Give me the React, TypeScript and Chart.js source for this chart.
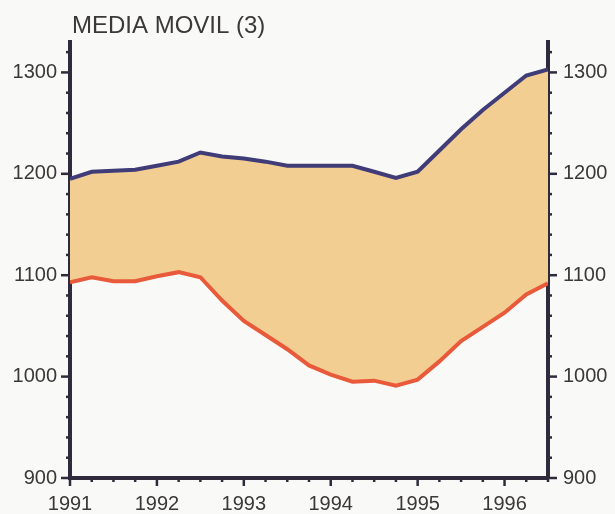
import React, { useEffect, useRef } from "react";
import { Chart, registerables } from "chart.js";

Chart.register(...registerables);

const TITLE = "MEDIA MOVIL (3)";

const quarters = [
  1991.0, 1991.25, 1991.5, 1991.75,
  1992.0, 1992.25, 1992.5, 1992.75,
  1993.0, 1993.25, 1993.5, 1993.75,
  1994.0, 1994.25, 1994.5, 1994.75,
  1995.0, 1995.25, 1995.5, 1995.75,
  1996.0, 1996.25, 1996.5,
];

const upperSeries = [
  1195, 1202, 1203, 1204,
  1208, 1212, 1221, 1217,
  1215, 1212, 1208, 1208,
  1208, 1208, 1202, 1196,
  1202, 1223, 1244, 1263,
  1280, 1297, 1303,
];

const lowerSeries = [
  1093, 1098, 1094, 1094,
  1099, 1103, 1098, 1075,
  1055, 1041, 1027, 1011,
  1002, 995, 996, 991,
  997, 1015, 1035, 1049,
  1063, 1081, 1092,
];

const yMin = 900;
const yMax = 1330;
const yStep = 20;
const xMin = 1991;
const xMax = 1996.5;
const xStep = 0.25;

const TEXT = "#3a3838";
const AXIS = "#2f2b3c";
const FILL = "#F3CE93";
const BLUE = "#3f3c78";
const RED = "#e85a3a";
const BG = "#f9f9f7";
const TICK_FONT = { family: "'Liberation Sans', Arial, sans-serif", size: 20 };

const isInt = (v: number) => Math.abs(v - Math.round(v)) < 1e-6;

const decorPlugin = {
  id: "decor",
  beforeDraw(chart: any) {
    const { ctx, width, height } = chart;
    ctx.save();
    ctx.fillStyle = BG;
    ctx.fillRect(0, 0, width, height);
    ctx.restore();
  },
  afterDraw(chart: any) {
    const { ctx, chartArea } = chart;
    ctx.save();
    ctx.strokeStyle = AXIS;
    ctx.lineWidth = 2.5;
    const xs = chart.scales.x;
    xs.ticks.forEach((t: any) => {
      const px = xs.getPixelForValue(t.value);
      const len = isInt(t.value) ? 8 : 4;
      ctx.beginPath();
      ctx.moveTo(px, chartArea.bottom);
      ctx.lineTo(px, chartArea.bottom + len);
      ctx.stroke();
    });
    ["y", "y2"].forEach((id) => {
      const s = chart.scales[id];
      s.ticks.forEach((t: any) => {
        const py = s.getPixelForValue(t.value);
        const len = t.value % 100 === 0 ? 9 : 4;
        const x0 = id === "y" ? chartArea.left : chartArea.right;
        const dir = id === "y" ? -1 : 1;
        ctx.beginPath();
        ctx.moveTo(x0, py);
        ctx.lineTo(x0 + dir * len, py);
        ctx.stroke();
      });
    });
    ctx.fillStyle = TEXT;
    ctx.font = "24px 'Liberation Sans', Arial, sans-serif";
    ctx.textBaseline = "alphabetic";
    ctx.textAlign = "left";
    ctx.fillText(TITLE, chartArea.left + 2, 33);
    ctx.restore();
  },
};

export default function App() {
  const ref = useRef<HTMLCanvasElement | null>(null);
  useEffect(() => {
    if (!ref.current) return;
    const chart = new Chart(ref.current, {
      type: "line",
      data: {
        labels: quarters,
        datasets: [
          {
            data: quarters.map((q, i) => ({ x: q, y: upperSeries[i] })),
            borderColor: BLUE,
            borderWidth: 4,
            backgroundColor: FILL,
            fill: "+1",
            pointRadius: 0,
            tension: 0,
            yAxisID: "y",
          },
          {
            data: quarters.map((q, i) => ({ x: q, y: lowerSeries[i] })),
            borderColor: RED,
            borderWidth: 4,
            fill: false,
            pointRadius: 0,
            tension: 0,
            yAxisID: "y",
          },
        ],
      },
      plugins: [decorPlugin],
      options: {
        animation: false,
        responsive: false,
        maintainAspectRatio: false,
        layout: { padding: { top: 42, left: 0, right: 0, bottom: 0 } },
        plugins: {
          legend: { display: false },
          tooltip: { enabled: false },
          title: { display: false },
          filler: { drawTime: "beforeDatasetsDraw" },
        },
        scales: {
          x: {
            type: "linear",
            min: xMin,
            max: xMax,
            afterFit: (s: any) => { s.height = 36; },
            grid: { display: false, drawTicks: false },
            border: { display: true, color: AXIS, width: 4 },
            ticks: {
              stepSize: xStep,
              includeBounds: false,
              autoSkip: false,
              maxRotation: 0,
              padding: 14,
              color: TEXT,
              font: TICK_FONT,
              callback: (v: any) => (isInt(Number(v)) ? String(Math.round(Number(v))) : ""),
            },
          },
          y: {
            type: "linear",
            position: "left",
            min: yMin,
            max: yMax,
            afterFit: (s: any) => { s.width = 70; },
            grid: { display: false, drawTicks: false },
            border: { display: true, color: AXIS, width: 4 },
            ticks: {
              stepSize: yStep,
              includeBounds: false,
              autoSkip: false,
              padding: 13,
              color: TEXT,
              font: TICK_FONT,
              callback: (v: any) => (Number(v) % 100 === 0 ? String(v) : ""),
            },
          },
          y2: {
            type: "linear",
            position: "right",
            min: yMin,
            max: yMax,
            afterFit: (s: any) => { s.width = 67; },
            grid: { display: false, drawTicks: false },
            border: { display: true, color: AXIS, width: 4 },
            ticks: {
              stepSize: yStep,
              includeBounds: false,
              autoSkip: false,
              padding: 15,
              color: TEXT,
              font: TICK_FONT,
              callback: (v: any) => (Number(v) % 100 === 0 ? String(v) : ""),
            },
          },
        },
      },
    } as any);
    return () => chart.destroy();
  }, []);
  return (
    <div style={{ position: "fixed", left: 0, top: 0, width: 615, height: 514 }}>
      <canvas ref={ref} width={615} height={514} style={{ width: 615, height: 514, display: "block" }} />
    </div>
  );
}
